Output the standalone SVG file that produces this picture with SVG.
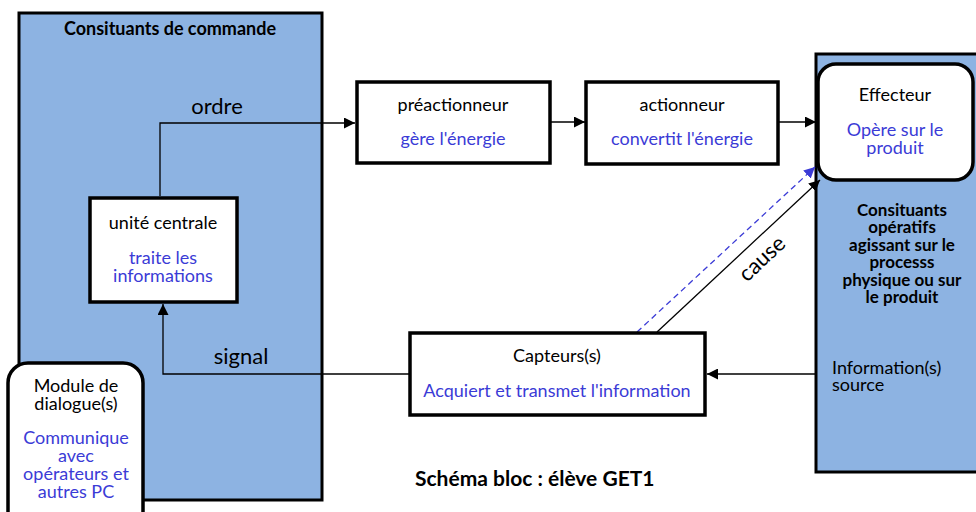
<svg xmlns="http://www.w3.org/2000/svg" width="976" height="512" viewBox="0 0 976 512">
<defs>
<marker id="ah" viewBox="0 0 10 10" refX="10" refY="5" markerWidth="11" markerHeight="11" markerUnits="userSpaceOnUse" orient="auto"><path d="M0,0 L10,5 L0,10 Z" fill="#000"/></marker>
<marker id="ahb" viewBox="0 0 10 10" refX="10" refY="5" markerWidth="11" markerHeight="11" markerUnits="userSpaceOnUse" orient="auto"><path d="M0,0 L10,5 L0,10 Z" fill="#3B3BD6"/></marker>
</defs>
<style>
.zone{fill:#8DB3E2;stroke:#000;stroke-width:3}
.box{fill:#fff;stroke:#000;stroke-width:3.5}
text{font-family:Lato,"Liberation Sans",sans-serif;font-size:18px;fill:#000;text-anchor:middle}
.b{fill:#3B3BD6}
.bold{font-weight:bold;font-size:18px}
.rb{font-weight:bold;font-size:17px}
.lbl{font-size:22px}
.conn{fill:none;stroke:#000;stroke-width:1.3}
</style>
<rect width="976" height="512" fill="#fff"/>
<g id="commande">
<rect class="zone" x="19" y="13" width="303" height="487"/>
<text class="bold" x="170" y="35">Consituants de commande</text>
</g>
<g id="operatifs">
<rect class="zone" x="816" y="54" width="165" height="418"/>
<text class="rb" x="902" y="216">Consituants</text>
<text class="rb" x="902" y="233">opératifs</text>
<text class="rb" x="902" y="251">agissant sur le</text>
<text class="rb" x="902" y="268">processs</text>
<text class="rb" x="902" y="286">physique ou sur</text>
<text class="rb" x="902" y="303">le produit</text>
<text x="832" y="374" style="text-anchor:start">Information(s)</text>
<text x="832" y="391" style="text-anchor:start">source</text>
</g>
<g id="connectors">
<polyline class="conn" points="160,196 160,123 355,123" marker-end="url(#ah)"/>
<line class="conn" x1="550" y1="122" x2="585" y2="122" marker-end="url(#ah)"/>
<line class="conn" x1="778" y1="122" x2="816" y2="122" marker-end="url(#ah)"/>
<polyline class="conn" points="410,374 163,374 163,304" marker-end="url(#ah)"/>
<line class="conn" x1="815" y1="374" x2="707" y2="374" marker-end="url(#ah)"/>
<line class="conn" x1="657" y1="332" x2="820" y2="180" marker-end="url(#ah)"/>
<line x1="637" y1="332" x2="815" y2="167" stroke="#3B3BD6" stroke-width="1.3" stroke-dasharray="6,4" marker-end="url(#ahb)"/>
<text class="lbl" x="217" y="114">ordre</text>
<text class="lbl" x="241" y="364">signal</text>
<text class="lbl" x="0" y="0" transform="translate(767,264) rotate(-43)">cause</text>
</g>
<g id="unite">
<rect class="box" x="90" y="198" width="147" height="104"/>
<text x="163" y="229">unité centrale</text>
<text class="b" x="163" y="264">traite les</text>
<text class="b" x="163" y="282">informations</text>
</g>
<g id="module">
<rect class="box" x="8" y="363" width="135" height="170" rx="20"/>
<text x="76" y="392">Module de</text>
<text x="76" y="410">dialogue(s)</text>
<text class="b" x="76" y="444">Communique</text>
<text class="b" x="76" y="462">avec</text>
<text class="b" x="76" y="480">opérateurs et</text>
<text class="b" x="76" y="498">autres PC</text>
</g>
<g id="preactionneur">
<rect class="box" x="357" y="82" width="193" height="81"/>
<text x="453" y="111">préactionneur</text>
<text class="b" x="453" y="145">gère l'énergie</text>
</g>
<g id="actionneur">
<rect class="box" x="586" y="82" width="192" height="82"/>
<text x="682" y="111">actionneur</text>
<text class="b" x="682" y="145">convertit l'énergie</text>
</g>
<g id="effecteur">
<rect class="box" x="818" y="64" width="155" height="116" rx="18"/>
<text x="895" y="101">Effecteur</text>
<text class="b" x="895" y="136">Opère sur le</text>
<text class="b" x="895" y="154">produit</text>
</g>
<g id="capteurs">
<rect class="box" x="410" y="333" width="295" height="82"/>
<text x="557" y="362">Capteurs(s)</text>
<text class="b" x="557" y="397">Acquiert et transmet l'information</text>
</g>
<text class="bold" x="415" y="486" style="text-anchor:start;font-size:21px">Schéma bloc : élève GET1</text>
</svg>
